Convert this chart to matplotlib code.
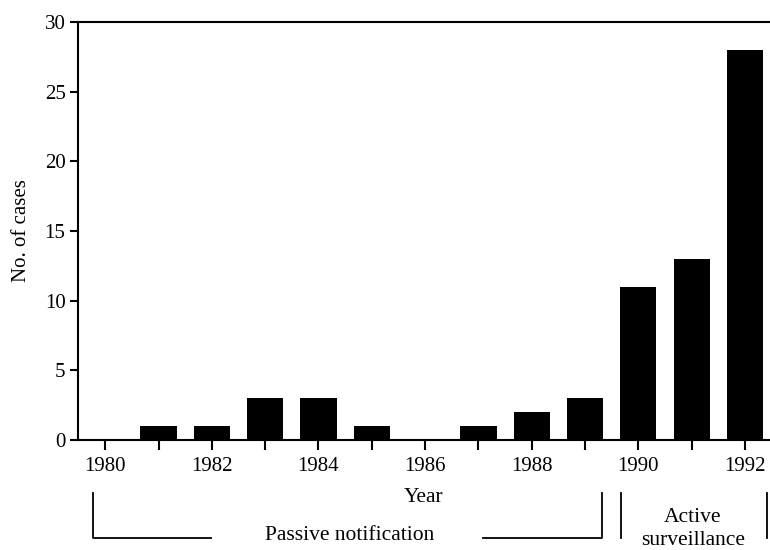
import numpy as np
import matplotlib
matplotlib.use("Agg")
import matplotlib.pyplot as plt

# datos
anios = [1980, 1981, 1982, 1983, 1984, 1985, 1986, 1987, 1988, 1989, 1990, 1991, 1992]
casos = [0, 1, 1, 3, 3, 1, 0, 1, 2, 3, 11, 13, 28]
etiquetas_x = [1980, 1982, 1984, 1986, 1988, 1990, 1992]
etiquetas_y = [0, 5, 10, 15, 20, 25, 30]

plt.rcParams['font.family'] = ['Liberation Serif', 'DejaVu Serif']

fig = plt.figure(figsize=(7.7, 5.5), dpi=100)
ax = fig.add_axes([78/770, 0.2, 1 - 78/770, 418/550])

ax.bar(anios, casos, width=0.68, color='black')

ax.set_xlim(1979.49, 1992.47)
ax.set_ylim(0, 30)
ax.set_xticks(anios)
ax.set_xticklabels([str(a) if a in etiquetas_x else '' for a in anios])
ax.set_yticks(etiquetas_y)

ax.spines['right'].set_visible(False)
for s in ['left', 'bottom', 'top']:
    ax.spines[s].set_linewidth(1.5)
ax.tick_params(axis='both', direction='out', width=1.5, labelsize=15, colors='black')
ax.tick_params(axis='y', length=6, pad=3)
ax.tick_params(axis='x', length=7, pad=5)

ax.set_ylabel('No. of cases', fontsize=15, labelpad=10)
ax.set_xlabel('Year', fontsize=15.5, labelpad=9)

# corchetes de los periodos
tr = ax.get_xaxis_transform()
y_arriba = (440 - 493) / 418
y_abajo = (440 - 538) / 418
ax.plot([1979.775, 1979.775, 1981.99], [y_arriba, y_abajo, y_abajo], color='black', lw=1.3, transform=tr, clip_on=False)
ax.plot([1987.09, 1989.32, 1989.32], [y_abajo, y_abajo, y_arriba], color='black', lw=1.3, transform=tr, clip_on=False)
ax.plot([1989.68, 1989.68], [y_arriba, y_abajo], color='black', lw=1.3, transform=tr, clip_on=False)
ax.plot([1992.42, 1992.42], [y_arriba, y_abajo], color='black', lw=1.3, transform=tr, clip_on=False)

ax.text(1984.58, (440 - 535) / 418, 'Passive notification', transform=tr, ha='center', va='center', fontsize=15.5)
ax.text(1991.02, (440 - 517) / 418, 'Active', transform=tr, ha='center', va='center', fontsize=15.5)
ax.text(1991.02, (440 - 550) / 418, 'surveillance', transform=tr, ha='center', va='bottom', fontsize=15.5)

fig.savefig('out.png', dpi=100)
